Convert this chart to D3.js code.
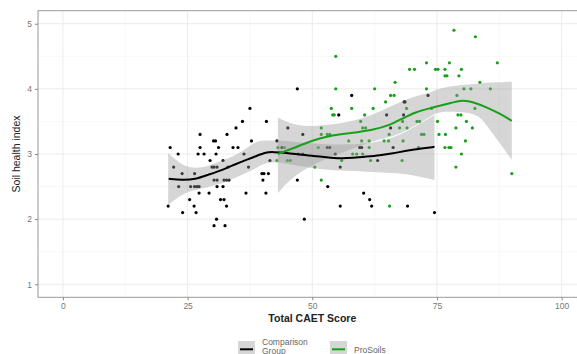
<!DOCTYPE html>
<html>
<head>
<meta charset="utf-8">
<script src="https://cdn.jsdelivr.net/npm/d3@7"></script>
<style>
  body { margin: 0; background: #fff; }
  svg { display: block; font-family: 'Liberation Sans', Arial, sans-serif; }
</style>
</head>
<body>
<svg id="chart" width="577" height="354"></svg>
<script>
// comparison group points
var compX = [21.5, 23.1, 22.2, 21.1, 23.9, 23.2, 24.0, 26.4, 25.6, 26.4, 26.9, 25.4, 26.3, 26.7, 27.3, 27.5, 27.5, 27.1, 28.3, 29.3,
  29.5, 30.2, 30.6, 31.2, 30.7, 29.9, 30.3, 30.9, 30.3, 30.9, 30.9, 32.1, 31.6, 32.3, 32.8, 30.8, 30.3, 32.5, 32.1, 32.3,
  32.8, 33.3, 32.9, 34.1, 35.1, 34.7, 36.0, 37.5, 37.8, 36.3, 37.2, 36.7, 33.1, 27.3,
  47.0, 40.8, 39.9, 40.3, 41.2, 40.1, 40.7, 41.5, 42.9, 43.9, 45.1, 48.1, 47.0, 48.4, 47.2, 48.1, 53.1, 55.6, 54.6, 55.6, 53.0, 53.5,
  57.9, 59.5, 59.9, 63.1, 60.3, 61.5, 64.9, 68.4, 68.6, 68.3, 65.7, 66.2, 73.2, 55.3, 61.9, 69.1, 74.5];
var compY = [3.1, 3.0, 2.8, 2.2, 2.7, 2.5, 2.1, 2.7, 2.5, 2.5, 2.5, 2.3, 2.2, 2.1, 2.4, 3.3, 3.1, 3.0, 3.0, 2.4,
  2.9, 3.2, 3.2, 3.1, 3.0, 2.8, 2.8, 2.8, 2.6, 2.6, 2.5, 2.5, 2.3, 2.3, 2.2, 2.0, 1.9, 1.9, 2.9, 2.6,
  2.6, 2.6, 3.3, 3.1, 3.1, 3.4, 3.5, 3.7, 3.2, 3.0, 2.8, 2.4, 2.8, 2.5,
  4.0, 3.5, 2.7, 2.7, 2.7, 2.6, 2.4, 2.9, 3.2, 3.1, 3.4, 3.3, 2.6, 2.0, 3.0, 3.0, 2.5, 2.2, 3.0, 2.8, 3.1, 3.1,
  3.9, 3.1, 3.1, 2.9, 2.4, 2.3, 3.6, 3.8, 3.8, 3.6, 3.4, 3.1, 3.9, 3.6, 2.2, 2.2, 2.1];

// ProSoils points
var proX = [43.1, 44.4, 42.9, 45.0, 45.6, 51.8, 51.8, 53.0, 53.5, 51.2, 50.5, 51.8, 54.7, 54.7, 53.8, 54.1, 54.4, 55.9, 57.3, 57.9,
  60.5, 59.7, 60.1, 60.7, 62.5, 62.2, 59.9, 61.4, 61.4, 58.1, 58.9, 60.1, 61.7, 64.7, 65.7, 66.4, 66.6, 65.4, 64.4, 65.3,
  68.2, 67.5, 68.1, 69.0, 68.9, 68.0, 69.5, 70.5, 72.9, 72.9, 71.0, 71.5, 71.9, 72.4, 71.3, 73.9, 74.7, 75.2, 76.6, 76.6,
  77.0, 75.1, 75.4, 76.7, 76.6, 77.4, 77.5, 78.4, 82.7, 87.1, 79.9, 79.4, 83.6, 80.4, 81.8, 85.7, 79.0, 82.6, 79.2, 79.8,
  80.9, 78.8, 82.1, 80.7, 77.8, 79.9, 78.8, 90.0, 65.5];
var proY = [3.1, 3.1, 2.9, 2.9, 2.9, 3.4, 3.3, 3.3, 3.3, 3.1, 2.8, 2.6, 4.0, 4.5, 3.7, 3.6, 3.6, 2.9, 3.2, 3.7,
  3.6, 3.5, 3.4, 3.4, 4.0, 3.7, 3.2, 3.2, 3.1, 3.0, 3.0, 3.0, 2.9, 3.8, 3.9, 3.9, 4.1, 3.3, 3.2, 3.2,
  3.2, 3.4, 3.5, 3.4, 3.7, 2.9, 4.3, 4.3, 4.4, 4.0, 3.5, 3.5, 3.3, 3.3, 3.1, 3.7, 4.3, 4.3, 4.3, 4.2,
  4.2, 3.5, 3.3, 3.3, 3.1, 3.1, 4.4, 4.9, 4.8, 4.4, 4.3, 4.2, 4.1, 4.0, 4.0, 4.0, 3.9, 3.7, 3.6, 3.6,
  3.5, 3.4, 3.4, 3.2, 3.1, 3.0, 2.8, 2.7, 2.2];

// loess fits
var compFitX = [21.2, 23.9, 26.5, 29.1, 31.8, 34.5, 37.1, 38.5, 40.8, 42.1, 44.8, 47.5, 50.2, 52.8, 55.5, 58.2, 60.9, 63.5, 66.2, 68.9, 71.5, 74.5];
var compFitY = [2.62, 2.60, 2.61, 2.68, 2.75, 2.84, 2.92, 2.96, 3.03, 3.03, 3.02, 2.99, 2.97, 2.95, 2.93, 2.94, 2.96, 2.98, 3.01, 3.05, 3.08, 3.11];
var compBandX = [21.1, 23.1, 25.1, 27.8, 30.5, 33.1, 35.8, 38.5, 40.2, 42.8, 46.1, 50.2, 55.5, 60.9, 64.9, 68.9, 74.5];
var compHi = [3.01, 2.88, 2.79, 2.78, 2.86, 2.93, 3.03, 3.19, 3.21, 3.21, 3.19, 3.16, 3.14, 3.16, 3.21, 3.34, 3.60];
var compLo = [2.22, 2.34, 2.42, 2.47, 2.52, 2.58, 2.68, 2.77, 2.86, 2.88, 2.83, 2.78, 2.74, 2.73, 2.71, 2.70, 2.60];

var proFitX = [43.1, 46.2, 48.8, 51.5, 54.2, 57.5, 62.2, 65.5, 68.2, 70.9, 73.5, 77.6, 80.2, 82.2, 84.9, 87.6, 90.0];
var proFitY = [3.00, 3.09, 3.17, 3.24, 3.29, 3.32, 3.37, 3.44, 3.55, 3.65, 3.70, 3.78, 3.83, 3.80, 3.72, 3.62, 3.51];
var proBandX = [43.1, 45.4, 48.8, 52.1, 57.5, 62.2, 66.2, 70.2, 74.1, 75.5, 79.5, 83.6, 85.5, 88.2, 90.0];
var proHi = [3.56, 3.47, 3.42, 3.44, 3.49, 3.60, 3.75, 3.88, 3.95, 4.01, 4.06, 4.08, 4.10, 4.10, 4.11];
var proLo = [2.40, 2.60, 2.78, 2.91, 3.06, 3.21, 3.26, 3.41, 3.60, 3.65, 3.65, 3.61, 3.37, 3.11, 2.91];

var xTicks = [0, 25, 50, 75, 100];
var yTicks = [1, 2, 3, 4, 5];
var xMinor = [12.5, 37.5, 62.5, 87.5];
var yMinor = [1.5, 2.5, 3.5, 4.5];

var compColor = '#000000',
  proColor = '#17a017';

var panelLeft = 38, panelTop = 10.7, panelRight = 586.6, panelBottom = 297.3;

var svg = d3.select('#chart');

var x = d3.scaleLinear().domain([-5, 105]).range([panelLeft, panelRight]);
var y = d3.scaleLinear().domain([0.8, 5.2]).range([panelBottom, panelTop]);

// grid
var grid = svg.append('g');
grid.selectAll('.xminor').data(xMinor).enter().append('line')
  .attr('x1', d => x(d)).attr('x2', d => x(d)).attr('y1', panelTop).attr('y2', panelBottom)
  .attr('stroke', '#f4f4f4').attr('stroke-width', 0.6);
grid.selectAll('.yminor').data(yMinor).enter().append('line')
  .attr('y1', d => y(d)).attr('y2', d => y(d)).attr('x1', panelLeft).attr('x2', panelRight)
  .attr('stroke', '#f4f4f4').attr('stroke-width', 0.6);
grid.selectAll('.xmajor').data(xTicks).enter().append('line')
  .attr('x1', d => x(d)).attr('x2', d => x(d)).attr('y1', panelTop).attr('y2', panelBottom)
  .attr('stroke', '#ebebeb').attr('stroke-width', 1);
grid.selectAll('.ymajor').data(yTicks).enter().append('line')
  .attr('y1', d => y(d)).attr('y2', d => y(d)).attr('x1', panelLeft).attr('x2', panelRight)
  .attr('stroke', '#ebebeb').attr('stroke-width', 1);

// points first, ribbons sit on top of them
var pts = svg.append('g');
pts.selectAll('.c').data(d3.range(compX.length)).enter().append('circle')
  .attr('cx', i => x(compX[i])).attr('cy', i => y(compY[i])).attr('r', 1.6)
  .attr('fill', compColor);
pts.selectAll('.p').data(d3.range(proX.length)).enter().append('circle')
  .attr('cx', i => x(proX[i])).attr('cy', i => y(proY[i])).attr('r', 1.6)
  .attr('fill', proColor);

var band = d3.area()
  .curve(d3.curveBasis)
  .x(d => x(d[0])).y0(d => y(d[1])).y1(d => y(d[2]));
var line = d3.line()
  .curve(d3.curveBasis)
  .x(d => x(d[0])).y(d => y(d[1]));

svg.append('path')
  .datum(compBandX.map((v, i) => [v, compLo[i], compHi[i]]))
  .attr('d', band).attr('fill', '#999').attr('fill-opacity', 0.4);
svg.append('path')
  .datum(proBandX.map((v, i) => [v, proLo[i], proHi[i]]))
  .attr('d', band).attr('fill', '#999').attr('fill-opacity', 0.4);

svg.append('path')
  .datum(compFitX.map((v, i) => [v, compFitY[i]]))
  .attr('d', line).attr('fill', 'none').attr('stroke', compColor).attr('stroke-width', 2);
svg.append('path')
  .datum(proFitX.map((v, i) => [v, proFitY[i]]))
  .attr('d', line).attr('fill', 'none').attr('stroke', proColor).attr('stroke-width', 2);

// panel border
svg.append('rect')
  .attr('x', panelLeft).attr('y', panelTop).attr('width', panelRight - panelLeft).attr('height', panelBottom - panelTop)
  .attr('fill', 'none').attr('stroke', '#9a9a9a').attr('stroke-width', 1);

// axes
var xAxis = svg.append('g')
  .attr('transform', 'translate(0,' + panelBottom + ')')
  .call(d3.axisBottom(x).tickValues(xTicks).tickFormat(d3.format('d')).tickSize(3).tickPadding(3));
var yAxis = svg.append('g')
  .attr('transform', 'translate(' + panelLeft + ',0)')
  .call(d3.axisLeft(y).tickValues(yTicks).tickFormat(d3.format('d')).tickSize(3).tickPadding(3));
[xAxis, yAxis].forEach(function (a) {
  a.select('.domain').remove();
  a.selectAll('line').attr('stroke', '#888');
  a.selectAll('text').attr('fill', '#777').style('font-size', '8.5px')
    .style('font-family', "'Liberation Sans', Arial, sans-serif");
});

svg.append('text')
  .attr('x', x(50)).attr('y', 322)
  .attr('text-anchor', 'middle')
  .style('font-size', '10.5px').style('font-weight', 'bold').attr('fill', '#222')
  .text('Total CAET Score');

svg.append('text')
  .attr('transform', 'translate(19.5,' + ((panelTop + panelBottom) / 2) + ')rotate(-90)')
  .attr('text-anchor', 'middle')
  .style('font-size', '10.5px').attr('fill', '#222')
  .text('Soil health index');

// legend
var legend = svg.append('g');
var keys = [
  { x: 238, color: compColor, label: ['Comparison', 'Group'] },
  { x: 330, color: proColor, label: ['ProSoils'] }
];
keys.forEach(function (k) {
  legend.append('rect')
    .attr('x', k.x).attr('y', 341).attr('width', 17).attr('height', 17)
    .attr('fill', '#d6d6d6');
  legend.append('line')
    .attr('x1', k.x + 2).attr('x2', k.x + 15).attr('y1', 349.3).attr('y2', 349.3)
    .attr('stroke', k.color).attr('stroke-width', 2);
  var t = legend.append('text')
    .attr('x', k.x + 24)
    .style('font-size', '8.5px').attr('fill', '#666');
  if (k.label.length === 2) {
    t.append('tspan').attr('x', k.x + 24).attr('y', 345).text(k.label[0]);
    t.append('tspan').attr('x', k.x + 24).attr('y', 353.5).text(k.label[1]);
  } else {
    t.attr('y', 352.5).text(k.label[0]);
  }
});
</script>
</body>
</html>
